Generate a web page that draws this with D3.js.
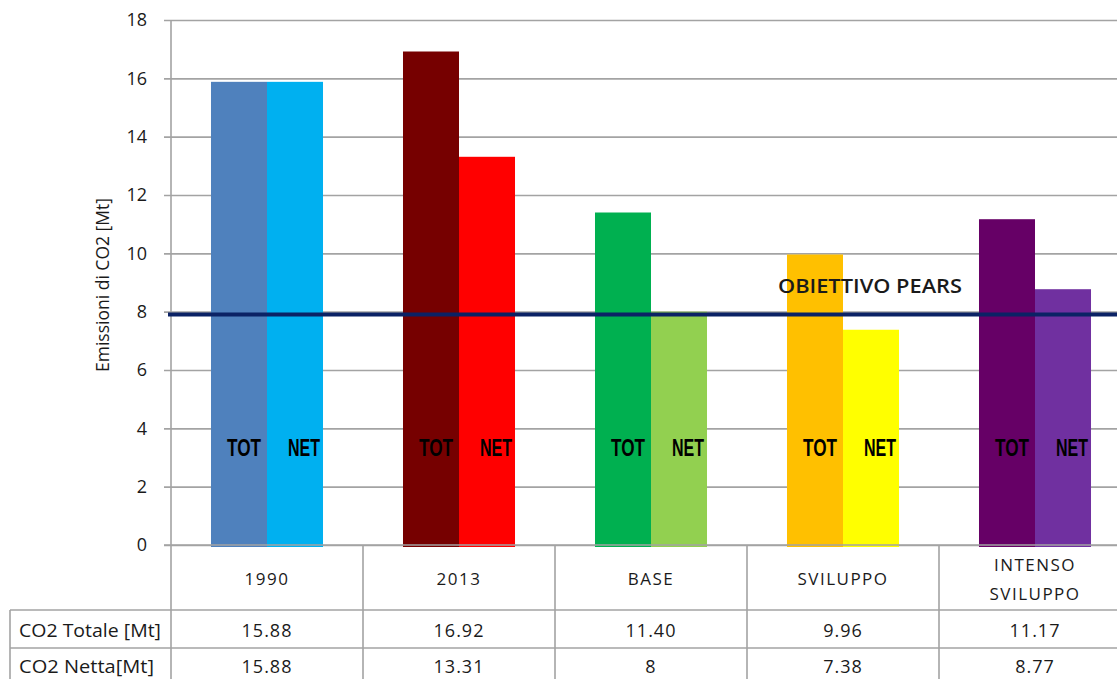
<!DOCTYPE html>
<html>
<head>
<meta charset="utf-8">
<script src="https://cdn.jsdelivr.net/npm/d3@7"></script>
<style>
  html, body { margin: 0; padding: 0; background: #fff; }
  svg { display: block; }
  text { font-family: "Open Sans", "Liberation Sans", sans-serif; fill: #1a1a1a; }
  .tag { font-family: "Liberation Sans", "DejaVu Sans", sans-serif; font-weight: bold; fill: #000; }
</style>
</head>
<body>
<svg id="chart" width="1117" height="679"></svg>
<script>
// Scenari e valori di emissione (Mt di CO2)
const categories = ["1990", "2013", "BASE", "SVILUPPO", "INTENSO SVILUPPO"];
const categoryLines = [["1990"], ["2013"], ["BASE"], ["SVILUPPO"], ["INTENSO", "SVILUPPO"]];
const co2Totale = [15.88, 16.92, 11.40, 9.96, 11.17];
const co2Netta = [15.88, 13.31, 8, 7.38, 8.77];
const totaleLabels = ["15.88", "16.92", "11.40", "9.96", "11.17"];
const nettaLabels = ["15.88", "13.31", "8", "7.38", "8.77"];
const coloriTotale = ["#4F81BD", "#760000", "#00B050", "#FFC000", "#660066"];
const coloriNetta = ["#00B0F0", "#FF0000", "#92D050", "#FFFF00", "#7030A0"];
const yTicks = [0, 2, 4, 6, 8, 10, 12, 14, 16, 18];
const obiettivo = 7.9;
const rowLabels = ["CO2 Totale [Mt]", "CO2 Netta[Mt]"];

const svg = d3.select("#chart");
const W = 1117;
const plot = { left: 171, right: 1131, top: 20, bottom: 545 };
const gridColor = "#a3a3a3";

const x = d3.scaleBand().domain(categories).range([plot.left, plot.right]).padding(0);
const xs = d3.scaleBand().domain(["tot", "net"]).range([0, x.bandwidth()])
  .paddingInner(0).paddingOuter(0.714);
const y = d3.scaleLinear().domain([0, 18]).range([plot.bottom, plot.top]);

// Griglia orizzontale con tacche a sinistra
const yAxis = d3.axisLeft(y).tickValues(yTicks).tickSize(-(W - plot.left)).tickSizeOuter(0).tickPadding(24);
const gy = svg.append("g").attr("transform", `translate(${plot.left},0)`).call(yAxis);
gy.select(".domain").remove();
gy.selectAll(".tick line").attr("stroke", gridColor).attr("stroke-width", 1.6).attr("x1", -7);
gy.selectAll(".tick text").attr("font-size", 18).attr("fill", "#1a1a1a")
  .style("font-family", '"Open Sans", "Liberation Sans", sans-serif');

// Asse verticale
svg.append("line").attr("x1", plot.left).attr("x2", plot.left)
  .attr("y1", plot.top).attr("y2", 679).attr("stroke", gridColor).attr("stroke-width", 1.6);

// Titolo asse Y
svg.append("text")
  .attr("transform", "translate(109,285) rotate(-90)")
  .attr("text-anchor", "middle").attr("font-size", 17.5).text("Emissioni di CO2 [Mt]");

// Barre
const groups = svg.append("g").selectAll("g").data(categories).join("g")
  .attr("transform", d => `translate(${x(d)},0)`);

groups.append("rect")
  .attr("x", xs("tot")).attr("width", xs.bandwidth())
  .attr("y", (d, i) => y(co2Totale[i]))
  .attr("height", (d, i) => y(0) - y(co2Totale[i]) + 2)
  .attr("fill", (d, i) => coloriTotale[i]);

groups.append("rect")
  .attr("x", xs("net")).attr("width", xs.bandwidth())
  .attr("y", (d, i) => y(co2Netta[i]))
  .attr("height", (d, i) => y(0) - y(co2Netta[i]) + 2)
  .attr("fill", (d, i) => coloriNetta[i]);

// Etichette TOT / NET (testo stretto in grassetto)
const tagY = y(3.05);
groups.append("text").attr("class", "tag")
  .attr("x", xs("tot") + xs.bandwidth() / 2 + 5 - 17).attr("y", tagY)
  .attr("font-size", 24).attr("textLength", 34).attr("lengthAdjust", "spacingAndGlyphs")
  .text("TOT");
groups.append("text").attr("class", "tag")
  .attr("x", xs("net") + xs.bandwidth() / 2 + 9 - 16).attr("y", tagY)
  .attr("font-size", 24).attr("textLength", 32).attr("lengthAdjust", "spacingAndGlyphs")
  .text("NET");

// Linea obiettivo PEARS
svg.append("line").attr("x1", plot.left - 3).attr("x2", W)
  .attr("y1", y(obiettivo)).attr("y2", y(obiettivo))
  .attr("stroke", "#0B2265").attr("stroke-width", 4);
svg.append("text").attr("x", 778).attr("y", 293)
  .attr("font-size", 19.5).attr("font-weight", 600)
  .attr("textLength", 184).attr("lengthAdjust", "spacingAndGlyphs")
  .text("OBIETTIVO PEARS");

// Tabella dati
const rowY = [610, 648];
const table = svg.append("g");
table.append("line").attr("x1", plot.left - 7).attr("x2", W).attr("y1", plot.bottom).attr("y2", plot.bottom)
  .attr("stroke", gridColor).attr("stroke-width", 1.6);
rowY.forEach(ry => table.append("line").attr("x1", 10).attr("x2", W).attr("y1", ry).attr("y2", ry)
  .attr("stroke", gridColor).attr("stroke-width", 1.6));
table.append("line").attr("x1", 10).attr("x2", 10).attr("y1", rowY[0]).attr("y2", 679)
  .attr("stroke", gridColor).attr("stroke-width", 1.6);
categories.slice(1).forEach(c => table.append("line").attr("x1", x(c)).attr("x2", x(c))
  .attr("y1", plot.bottom).attr("y2", 679).attr("stroke", gridColor).attr("stroke-width", 1.6));

categories.forEach((c, i) => {
  const cx = x(c) + x.bandwidth() / 2;
  const lines = categoryLines[i];
  lines.forEach((ln, k) => {
    table.append("text").attr("x", cx)
      .attr("y", 585 + (k - (lines.length - 1) / 2) * 29)
      .attr("text-anchor", "middle").attr("font-size", 17).attr("letter-spacing", 1.5).text(ln);
  });
  table.append("text").attr("x", cx).attr("y", 637).attr("text-anchor", "middle")
    .attr("font-size", 18).attr("letter-spacing", 1).text(totaleLabels[i]);
  table.append("text").attr("x", cx).attr("y", 673).attr("text-anchor", "middle")
    .attr("font-size", 18).attr("letter-spacing", 1).text(nettaLabels[i]);
});
rowLabels.forEach((l, i) => table.append("text").attr("x", 19).attr("y", i === 0 ? 637 : 673)
  .attr("font-size", 17.5).attr("textLength", i === 0 ? 142 : 135).attr("lengthAdjust", "spacingAndGlyphs")
  .text(l));
</script>
</body>
</html>
